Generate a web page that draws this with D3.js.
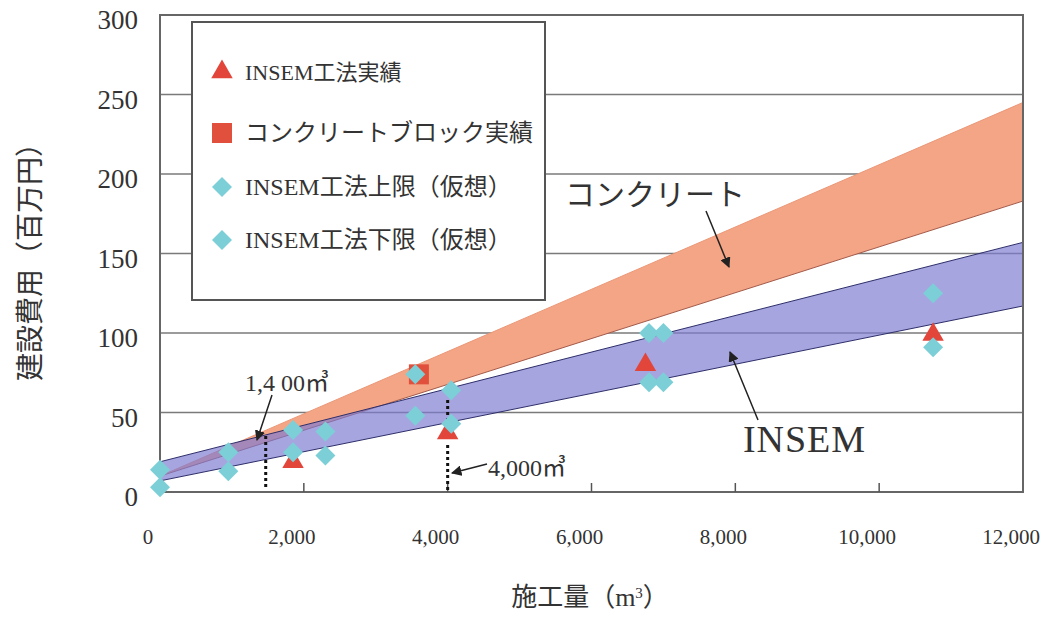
<!DOCTYPE html>
<html><head><meta charset="utf-8">
<script src="https://cdn.jsdelivr.net/npm/d3@7/dist/d3.min.js"></script>
<style>
html,body{margin:0;padding:0;background:#fff;}
text{font-family:"Liberation Serif","Noto Sans CJK JP",serif;fill:#333;}
</style></head>
<body><svg id="c" width="1057" height="617"></svg>
<script>
// ---- data ----
const xTicks = [0, 2000, 4000, 6000, 8000, 10000, 12000];
const yTicks = [0, 50, 100, 150, 200, 250, 300];
const insemActual = [[1850, 19], [4000, 37], [6750, 80], [10750, 99]];
const blockActual = [[3600, 74]];
const insemUpper = [[0, 14], [950, 25], [1850, 39], [2300, 38], [3550, 74], [4050, 64], [6800, 100], [7000, 100], [10750, 125]];
const insemLower = [[0, 3], [950, 13], [1850, 25], [2300, 23], [3550, 48], [4050, 43], [6800, 69], [7000, 69], [10750, 91]];
const bandX = [0, 12000];
const concreteUpper = [10, 245];
const concreteLower = [10, 183];
const insemBandUpper = [19, 157];
const insemBandLower = [7, 117];
const legendLabels = ["INSEM工法実績", "コンクリートブロック実績", "INSEM工法上限（仮想）", "INSEM工法下限（仮想）"];
const markers1400 = 1400, markers4000 = 4000;

// ---- layout ----
const svg = d3.select("#c");
const L = 160, R = 1023, T = 15, B = 492;
const x = d3.scaleLinear().domain([0, 12000]).range([L, R]);
const y = d3.scaleLinear().domain([0, 300]).range([B, T]);

// gridlines
svg.append("g").selectAll("line").data(yTicks.filter(d => d > 0 && d < 300)).join("line")
  .attr("x1", L).attr("x2", R).attr("y1", d => y(d)).attr("y2", d => y(d))
  .attr("stroke", "#7a7a7a").attr("stroke-width", 1.3);

// bands
const area = d3.area().x(d => x(d[0])).y0(d => y(d[1])).y1(d => y(d[2]));
const cData = bandX.map((v, i) => [v, concreteLower[i], concreteUpper[i]]);
const iData = bandX.map((v, i) => [v, insemBandLower[i], insemBandUpper[i]]);
const line = d3.line().x(d => x(d[0])).y(d => y(d[1]));
svg.append("path").attr("d", area(cData)).attr("fill", "#f4a585");
svg.append("path").attr("d", line(cData.map(d => [d[0], d[1]]))).attr("stroke", "#a35a4a").attr("stroke-width", 1).attr("fill", "none");
svg.append("path").attr("d", line(cData.map(d => [d[0], d[2]]))).attr("stroke", "#eb9878").attr("stroke-width", 1).attr("fill", "none");
svg.append("path").attr("d", area(iData)).attr("fill", "#7c7ad2").attr("fill-opacity", 0.68);
svg.append("path").attr("d", line(iData.map(d => [d[0], d[1]]))).attr("stroke", "#2e2e6a").attr("stroke-width", 1).attr("fill", "none");
svg.append("path").attr("d", line(iData.map(d => [d[0], d[2]]))).attr("stroke", "#2e2e6a").attr("stroke-width", 1).attr("fill", "none");

// frame
svg.append("rect").attr("x", L).attr("y", T).attr("width", R - L).attr("height", B - T)
  .attr("fill", "none").attr("stroke", "#666").attr("stroke-width", 2);
// x ticks (inward)
svg.append("g").selectAll("line").data(xTicks.slice(1, -1)).join("line")
  .attr("x1", d => x(d)).attr("x2", d => x(d)).attr("y1", B).attr("y2", B - 9)
  .attr("stroke", "#555").attr("stroke-width", 1.5);

// tick labels
svg.append("g").selectAll("text").data(xTicks).join("text")
  .attr("x", d => x(d) - 12).attr("y", 544).attr("text-anchor", "middle")
  .style("font-size", "21px").text(d => d3.format(",")(d));
svg.append("g").selectAll("text").data(yTicks).join("text")
  .attr("x", 138).attr("y", d => y(d) + 14).attr("text-anchor", "end")
  .style("font-size", "27px").text(d => d);

// axis titles
svg.append("text").attr("x", 590).attr("y", 606).attr("text-anchor", "middle").style("font-size", "26px")
  .html('施工量（m<tspan baseline-shift="super" font-size="15">3</tspan>）');
svg.append("text").attr("transform", "translate(40,255) rotate(-90)").attr("text-anchor", "middle")
  .style("font-size", "28px").text("建設費用（百万円）");

// dotted markers
const dot = (xv, y1, y2) => svg.append("line").attr("x1", x(xv)).attr("x2", x(xv)).attr("y1", y1).attr("y2", y2)
  .attr("stroke", "#111").attr("stroke-width", 3).attr("stroke-dasharray", "3,3");
dot(markers1400 + 70, 436, 488);
dot(markers4000, 400, 422);
dot(markers4000, 445, 490);

// markers
const diamond = d3.symbol().type(d3.symbolSquare).size(200);
const tri = d3.symbol().type(d3.symbolTriangle).size(200);
svg.append("g").selectAll("path").data(insemActual).join("path")
  .attr("transform", d => `translate(${x(d[0])},${y(d[1])})`).attr("d", tri).attr("fill", "#e2463a");
svg.append("g").selectAll("rect").data(blockActual).join("rect")
  .attr("x", d => x(d[0]) - 10).attr("y", d => y(d[1]) - 10).attr("width", 20).attr("height", 20).attr("fill", "#e0503c");
svg.append("g").selectAll("path").data(insemUpper.concat(insemLower)).join("path")
  .attr("transform", d => `translate(${x(d[0])},${y(d[1])}) rotate(45)`).attr("d", diamond).attr("fill", "#7ccfd6");

// arrows
const defs = svg.append("defs");
defs.append("marker").attr("id", "ah").attr("viewBox", "0 0 10 10").attr("refX", 9).attr("refY", 5)
  .attr("markerWidth", 7).attr("markerHeight", 7).attr("orient", "auto")
  .append("path").attr("d", "M0,0L10,5L0,10z").attr("fill", "#222");
const arrow = (x1, y1, x2, y2) => svg.append("line").attr("x1", x1).attr("y1", y1).attr("x2", x2).attr("y2", y2)
  .attr("stroke", "#222").attr("stroke-width", 1.5).attr("marker-end", "url(#ah)");
arrow(272, 395, 257, 440);
arrow(487, 464, 452, 473);
arrow(706, 211, 729, 267);
arrow(758, 420, 730, 352);

// annotation texts
svg.append("text").attr("x", 245).attr("y", 391).style("font-size", "24px").text("1,4 00㎥");
svg.append("text").attr("x", 488).attr("y", 476).style("font-size", "24px").text("4,000㎥");
svg.append("text").attr("x", 565).attr("y", 205).style("font-size", "30px").attr("textLength", 180).attr("lengthAdjust", "spacing").text("コンクリート");
svg.append("text").attr("x", 743).attr("y", 452).style("font-size", "38px").attr("textLength", 122).attr("lengthAdjust", "spacing").text("INSEM");

// legend
const lg = svg.append("g");
lg.append("rect").attr("x", 192).attr("y", 22).attr("width", 353).attr("height", 278)
  .attr("fill", "#fff").attr("stroke", "#555").attr("stroke-width", 2);
const ly = [72, 133, 187, 240];
const lfs = [22, 24, 24, 24];
lg.append("path").attr("transform", `translate(222,${ly[0]})`).attr("d", tri).attr("fill", "#e2463a");
lg.append("rect").attr("x", 212).attr("y", ly[1] - 10).attr("width", 20).attr("height", 20).attr("fill", "#e0503c");
lg.append("path").attr("transform", `translate(222,${ly[2]}) rotate(45)`).attr("d", diamond).attr("fill", "#7ccfd6");
lg.append("path").attr("transform", `translate(222,${ly[3]}) rotate(45)`).attr("d", diamond).attr("fill", "#7ccfd6");
lg.selectAll("text.l").data(legendLabels).join("text").attr("class", "l")
  .attr("x", 245).attr("y", (d, i) => ly[i] + 8).style("font-size", (d, i) => lfs[i] + "px").text(d => d);
</script></body></html>
